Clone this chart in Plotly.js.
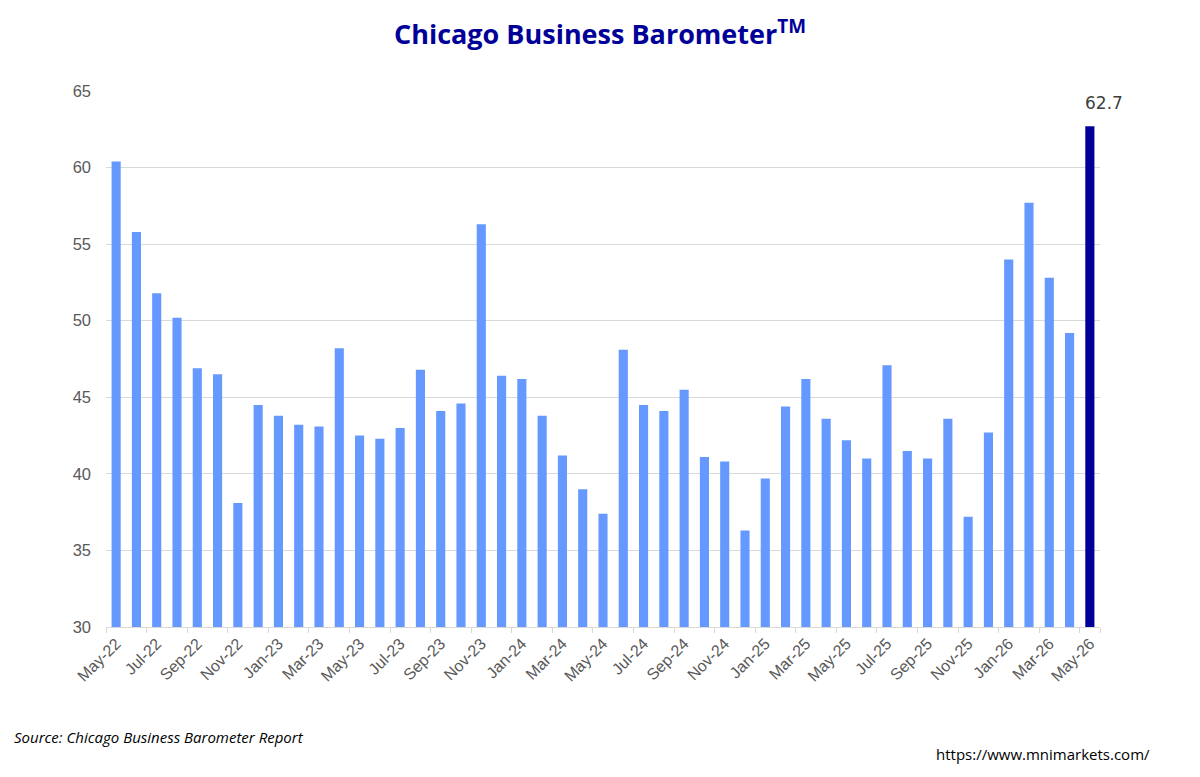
<!DOCTYPE html>
<html>
<head>
<meta charset="utf-8">
<script src="https://cdn.plot.ly/plotly-3.0.1.min.js"></script>
<style>html,body{margin:0;padding:0;background:#fff;}#chart{width:1200px;height:777px;}</style>
</head>
<body>
<div id="chart"></div>
<script>
const months = ["May-22","Jun-22","Jul-22","Aug-22","Sep-22","Oct-22","Nov-22","Dec-22",
"Jan-23","Feb-23","Mar-23","Apr-23","May-23","Jun-23","Jul-23","Aug-23","Sep-23","Oct-23","Nov-23","Dec-23",
"Jan-24","Feb-24","Mar-24","Apr-24","May-24","Jun-24","Jul-24","Aug-24","Sep-24","Oct-24","Nov-24","Dec-24",
"Jan-25","Feb-25","Mar-25","Apr-25","May-25","Jun-25","Jul-25","Aug-25","Sep-25","Oct-25","Nov-25","Dec-25",
"Jan-26","Feb-26","Mar-26","Apr-26","May-26"];
const values = [60.4,55.8,51.8,50.2,46.9,46.5,38.1,44.5,
43.8,43.2,43.1,48.2,42.5,42.3,43.0,46.8,44.1,44.6,56.3,46.4,
46.2,43.8,41.2,39.0,37.4,48.1,44.5,44.1,45.5,41.1,40.8,36.3,
39.7,44.4,46.2,43.6,42.2,41.0,47.1,41.5,41.0,43.6,37.2,42.7,
54.0,57.7,52.8,49.2,62.7];
const tickLabels = months.filter((m,i)=>i%2===0);

const colors = values.map((v,i)=> i===values.length-1 ? "#000099" : "#6699FF");
const last = values.length-1;

const trace = {
  type: "bar",
  x: months,
  y: values,
  marker: {color: colors},
  width: 0.45,
  hoverinfo: "x+y"
};

const layout = {
  width: 1200, height: 777,
  margin: {l: 106, r: 100, t: 91, b: 150},
  paper_bgcolor: "#fff", plot_bgcolor: "#fff",
  showlegend: false,
  title: {
    text: "<b>Chicago Business Barometer<sup>TM</sup></b>",
    font: {family: "Open Sans, sans-serif", size: 27, color: "#000099"},
    x: 0.5, xanchor: "center", y: 0.955, yanchor: "middle"
  },
  xaxis: {
    type: "category",
    tickmode: "array",
    tickvals: tickLabels,
    ticktext: tickLabels,
    tickangle: -45,
    tickson: "boundaries",
    ticks: "outside",
    ticklen: 5,
    tickcolor: "#d9d9d9",
    showline: true,
    linecolor: "#d9d9d9",
    linewidth: 1,
    showgrid: false,
    tickfont: {family: "Liberation Sans, Arial, sans-serif", size: 16, color: "#595959"},
    range: [-0.5, values.length-0.5]
  },
  yaxis: {
    range: [30, 65],
    dtick: 5,
    tick0: 30,
    showgrid: true,
    gridcolor: "#d9d9d9",
    gridwidth: 1,
    zeroline: false,
    showline: false,
    ticks: "",
    ticklabelstandoff: 14,
    tickfont: {family: "Liberation Sans, Arial, sans-serif", size: 16.5, color: "#595959"}
  },
  annotations: [
    {x: months[last], y: values[last], text: values[last].toFixed(1), showarrow: false,
     yanchor: "bottom", yshift: 11, xshift: 14,
     font: {family: "DejaVu Sans, sans-serif", size: 17, color: "#404040"}},
    {xref: "paper", yref: "paper", x: -0.095, y: -0.205, xanchor: "left", yanchor: "middle",
     text: "<i>Source: Chicago Business Barometer Report</i>", showarrow: false,
     font: {family: "Open Sans, sans-serif", size: 15, color: "#000"}},
    {xref: "paper", yref: "paper", x: 1.052, y: -0.237, xanchor: "right", yanchor: "middle",
     text: "https://www.mnimarkets.com/", showarrow: false,
     font: {family: "Open Sans, sans-serif", size: 15, color: "#000"}}
  ]
};

Plotly.newPlot("chart", [trace], layout, {displayModeBar: false, staticPlot: true});
</script>
</body>
</html>
